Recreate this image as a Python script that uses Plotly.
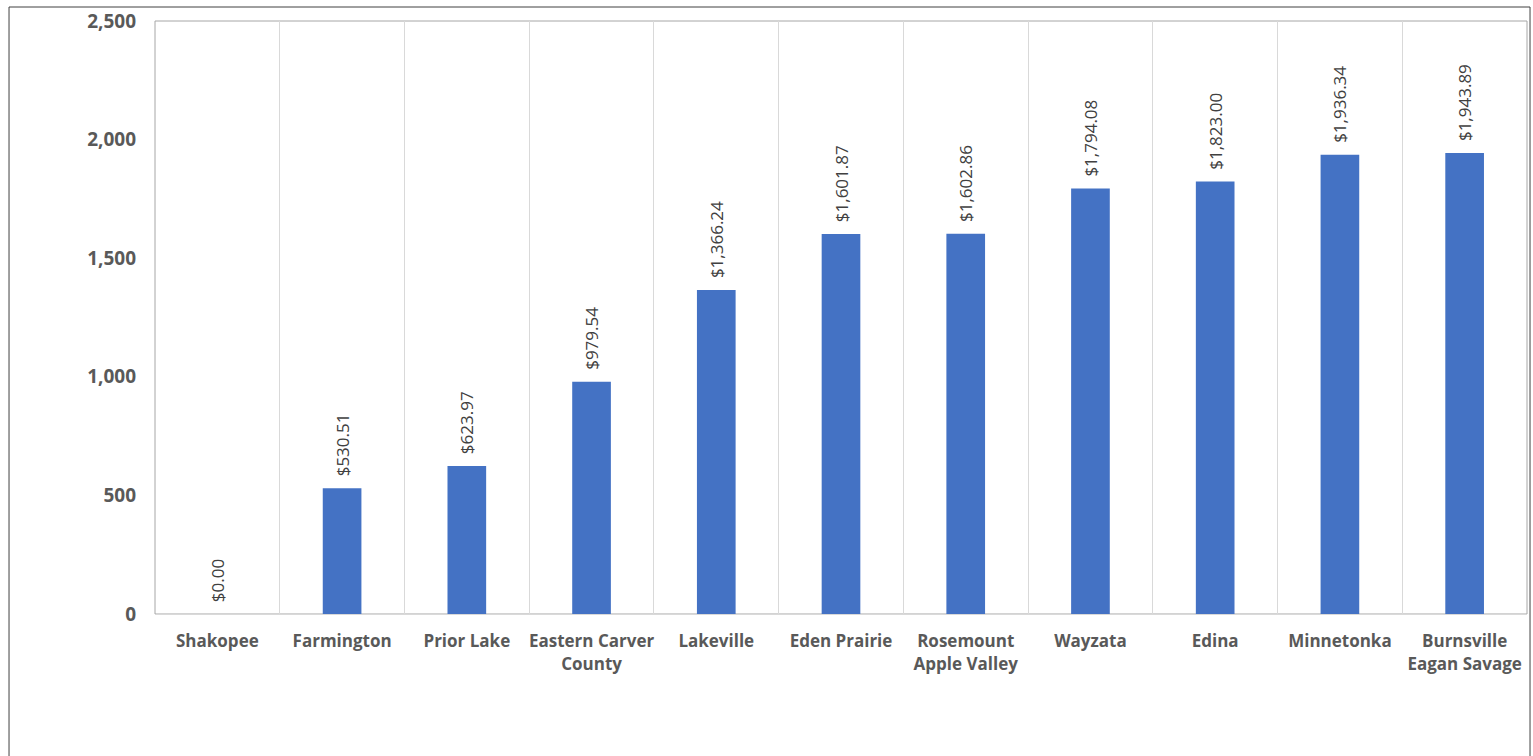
import plotly.graph_objects as go

categories = ["Shakopee", "Farmington", "Prior Lake", "Eastern Carver<br>County", "Lakeville",
              "Eden Prairie", "Rosemount<br>Apple Valley", "Wayzata", "Edina", "Minnetonka",
              "Burnsville<br>Eagan Savage"]
values = [0.00, 530.51, 623.97, 979.54, 1366.24, 1601.87, 1602.86, 1794.08, 1823.00, 1936.34, 1943.89]
labels = ["\u00a0\u00a0${:,.2f}".format(v) for v in values]
y_ticks = [0, 500, 1000, 1500, 2000, 2500]

fig = go.Figure(go.Bar(
    x=categories, y=values, text=labels, textposition="outside", textangle=-90,
    constraintext="none",
    textfont=dict(family="Open Sans, sans-serif", size=17, color="#404040"),
    marker=dict(color="#4472C4", line=dict(width=0)), width=0.31, cliponaxis=False,
))

fig.update_layout(
    width=1533, height=756, margin=dict(l=155, r=6, t=21, b=142),
    paper_bgcolor="white", plot_bgcolor="white", showlegend=False,
    font=dict(family="Open Sans, sans-serif"),
)
fig.update_xaxes(
    tickson="boundaries", showgrid=True, gridcolor="#D9D9D9", gridwidth=1,
    showline=True, linecolor="#D9D9D9", mirror=False, ticks="",
    tickfont=dict(family="Open Sans, sans-serif", size=17, color="#595959", weight="bold"),
    tickangle=0, ticklabelstandoff=12,
)
fig.update_yaxes(
    range=[0, 2500], tickvals=y_ticks, tickformat=",", showgrid=False,
    showline=False, ticks="", zeroline=False,
    tickfont=dict(family="Open Sans, sans-serif", size=19, color="#595959", weight="bold"),
    ticklabelstandoff=18,
)
# plot area frame
fig.add_shape(type="rect", xref="paper", yref="paper", x0=0, x1=1, y0=0, y1=1,
              line=dict(color="#A6A6A6", width=1), layer="below")
# outer chart border
fig.add_shape(type="rect", xref="paper", yref="paper", x0=-0.1064, x1=1.0022, y0=-0.26, y1=1.0236,
              line=dict(color="#404040", width=1))
fig.write_html("out.html")
